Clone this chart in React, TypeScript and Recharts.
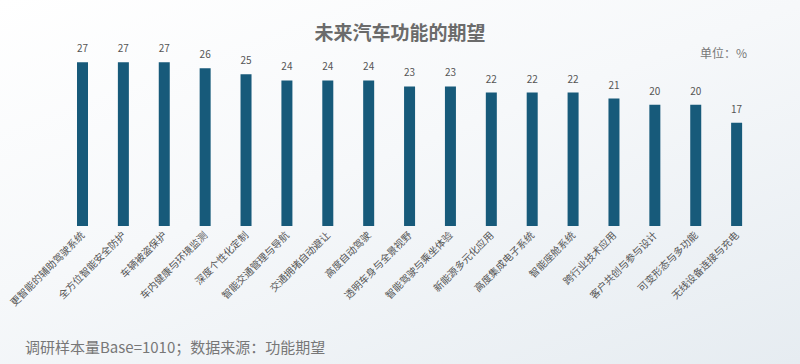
import React from 'react';
import { BarChart, Bar, XAxis, YAxis, LabelList } from 'recharts';

// 功能类别
const features = [
  '更智能的辅助驾驶系统',
  '全方位智能安全防护',
  '车辆被盗保护',
  '车内健康与环境监测',
  '深度个性化定制',
  '智能交通管理与导航',
  '交通拥堵自动避让',
  '高度自动驾驶',
  '透明车身与全景视野',
  '智能驾驶与乘坐体验',
  '新能源多元化应用',
  '高度集成电子系统',
  '智能座舱系统',
  '跨行业技术应用',
  '客户共创与参与设计',
  '可变形态与多功能',
  '无线设备连接与充电',
];

const shares = [27, 27, 27, 26, 25, 24, 24, 24, 23, 23, 22, 22, 22, 21, 20, 20, 17];

const data = features.map((name, i) => ({ name, value: shares[i] }));

const FONT = '"Noto Sans CJK SC", "Noto Sans", sans-serif';

const AngledTick = (props: any) => {
  const { x, y, payload } = props;
  return (
    <text
      transform={`translate(${x + 3},${y + 2}) rotate(-45)`}
      textAnchor="end"
      fontSize={10}
      fill="#555"
      fontFamily={FONT}
    >
      {payload.value}
    </text>
  );
};

const App: React.FC = () => {
  return (
    <div
      style={{
        position: 'absolute',
        left: 0,
        top: 0,
        width: 800,
        height: 364,
        background: 'linear-gradient(160deg, #ffffff 0%, #f6f8fa 45%, #e6ecf1 100%)',
        fontFamily: FONT,
        overflow: 'hidden',
      }}
    >
      <div
        style={{
          position: 'absolute',
          top: 18,
          left: 0,
          width: 800,
          textAlign: 'center',
          fontSize: 19,
          fontWeight: 700,
          color: '#6b6b6b',
        }}
      >
        未来汽车功能的期望
      </div>
      <div style={{ position: 'absolute', top: 44, left: 700, fontSize: 12, color: '#777' }}>单位：%</div>
      <div style={{ position: 'absolute', top: 336, left: 25, fontSize: 15, color: '#777' }}>
        调研样本量Base=1010；数据来源：功能期望
      </div>
      <BarChart
        width={800}
        height={364}
        data={data}
        margin={{ top: 44, right: 43, bottom: 0, left: 62 }}
        style={{ position: 'absolute', left: 0, top: 0 }}
      >
        <XAxis
          dataKey="name"
          axisLine={false}
          tickLine={false}
          interval={0}
          height={138}
          tick={<AngledTick />}
        />
        <YAxis hide domain={[0, 30]} />
        <Bar dataKey="value" fill="#175a7a" barSize={11} isAnimationActive={false}>
          <LabelList dataKey="value" position="top" offset={10} fontSize={10} fill="#555" fontFamily={FONT} />
        </Bar>
      </BarChart>
    </div>
  );
};

export default App;
